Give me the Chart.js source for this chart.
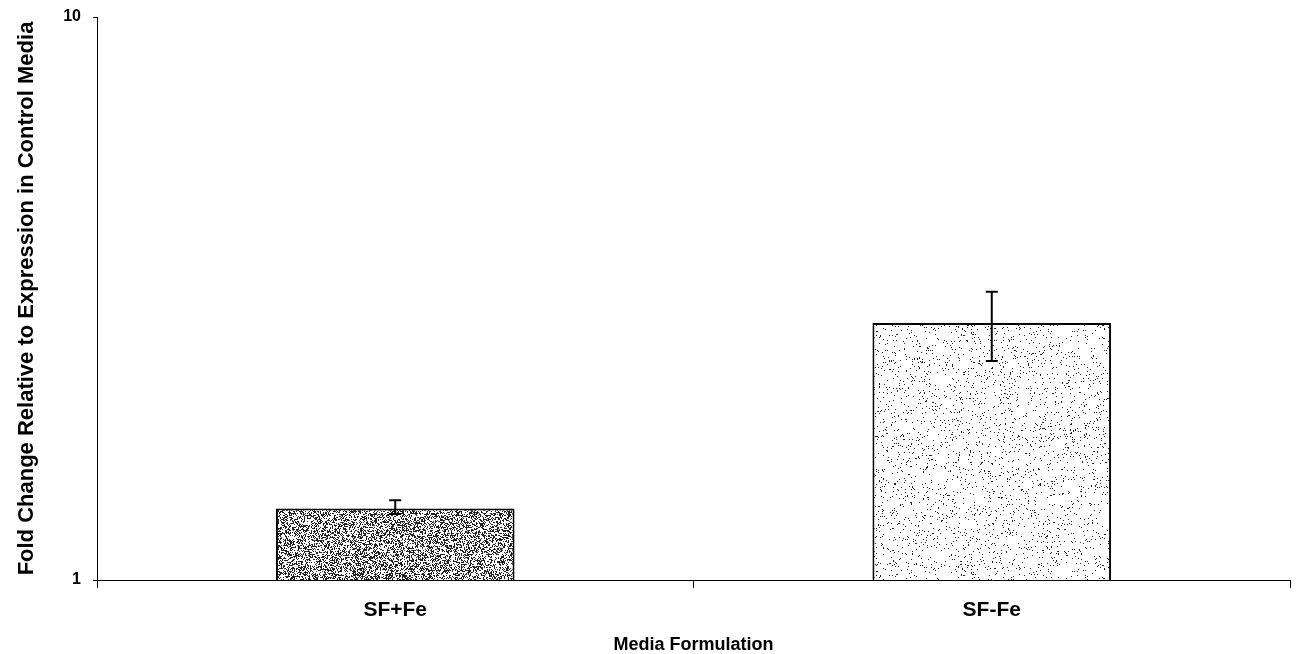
<!DOCTYPE html>
<html>
<head>
<meta charset="utf-8">
<script src="https://cdn.jsdelivr.net/npm/chart.js@4"></script>
<style>
  html, body { margin: 0; padding: 0; background: #fff; }
  #wrap { width: 1300px; height: 654px; }
</style>
</head>
<body>
<div id="wrap"><canvas id="fold-chart" width="1300" height="654"></canvas></div>
<script>
const categories = ['SF+Fe', 'SF-Fe'];
const foldChange = [1.34, 2.86];
const errLow = [1.31, 2.45];
const errHigh = [1.385, 3.25];
const yTickLabels = [1, 10];

// stippled fill, density = share of dark pixels
function makeStipple(density, size) {
    const c = document.createElement('canvas');
    c.width = size; c.height = size;
    const g = c.getContext('2d');
    g.fillStyle = '#fff';
    g.fillRect(0, 0, size, size);
    g.fillStyle = '#222';
    for (let y = 0; y < size; y++) {
        for (let x = 0; x < size; x++) {
            let h = (x * 374761393 + y * 668265263) | 0;
            h = Math.imul(h ^ (h >>> 13), 1274126177);
            h = (h ^ (h >>> 16)) >>> 0;
            if ((h % 1000) / 1000 < density) g.fillRect(x, y, 1, 1);
        }
    }
    return g.createPattern(c, 'repeat');
}

const ctx = document.getElementById('fold-chart').getContext('2d');
const fills = [makeStipple(0.42, 240), makeStipple(0.05, 240)];

const errorBars = {
    id: 'errorBars',
    afterDatasetsDraw(chart) {
        const meta = chart.getDatasetMeta(0);
        const y = chart.scales.y;
        const c = chart.ctx;
        c.save();
        c.strokeStyle = '#000';
        c.lineWidth = 2;
        meta.data.forEach((bar, i) => {
            const top = y.getPixelForValue(errHigh[i]);
            const bot = y.getPixelForValue(errLow[i]);
            c.beginPath();
            c.moveTo(bar.x, top); c.lineTo(bar.x, bot);
            c.moveTo(bar.x - 6, top); c.lineTo(bar.x + 6, top);
            c.moveTo(bar.x - 6, bot); c.lineTo(bar.x + 6, bot);
            c.stroke();
        });
        c.restore();
    }
};

const chart = new Chart(ctx, {
    type: 'bar',
    data: {
        labels: categories,
        datasets: [{
            data: foldChange,
            backgroundColor: fills,
            borderColor: '#000',
            borderWidth: 2,
            borderSkipped: 'bottom',
            barPercentage: 0.4,
            categoryPercentage: 1.0
        }]
    },
    options: {
        responsive: false,
        animation: false,
        layout: { padding: { top: 17, right: 10, left: 8, bottom: 0 } },
        plugins: { legend: { display: false }, tooltip: { enabled: false } },
        scales: {
            x: {
                grid: { display: true, offset: true, drawOnChartArea: false, tickLength: 8, color: '#000' },
                border: { color: '#000', width: 1 },
                ticks: { color: '#000', font: { family: 'Liberation Sans', size: 21, weight: 'bold' }, padding: 10 },
                title: { display: true, text: 'Media Formulation', color: '#000', font: { family: 'Liberation Sans', size: 18, weight: 'bold', lineHeight: 1 }, padding: { top: 0, bottom: 0 } },
                afterFit(s) { s.height = 74; }
            },
            y: {
                type: 'logarithmic',
                min: 1,
                max: 10,
                afterBuildTicks(s) { s.ticks = yTickLabels.map(v => ({ value: v, major: true })); },
                grid: { display: true, drawOnChartArea: false, tickLength: 4, color: '#000' },
                border: { color: '#000', width: 1 },
                ticks: { color: '#000', font: { family: 'Liberation Sans', size: 16, weight: 'bold' }, padding: 12, callback: v => String(v) },
                title: { display: true, text: 'Fold Change Relative to Expression in Control Media', color: '#000', font: { family: 'Liberation Sans', size: 22, weight: 'bold', lineHeight: 1 }, padding: { top: 8, bottom: 0 } },
                afterFit(s) { s.width = 89; s.paddingTop = 0; s.paddingBottom = 0; }
            }
        }
    },
    plugins: [errorBars]
});
</script>
</body>
</html>
